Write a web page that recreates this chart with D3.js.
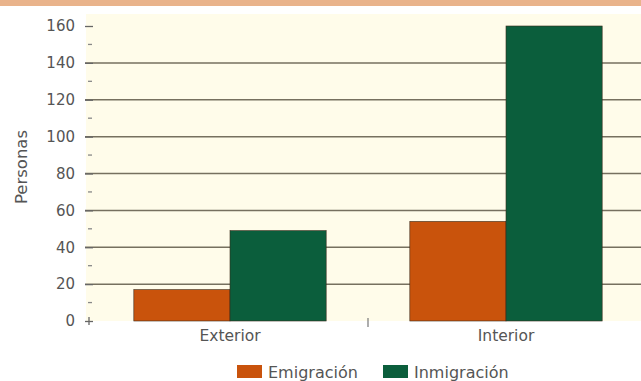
<!DOCTYPE html>
<html><head><meta charset="utf-8">
<script src="https://cdn.jsdelivr.net/npm/d3@7/dist/d3.min.js"></script>
<style>body{margin:0;background:#fff;}svg{display:block;font-family:"DejaVu Sans",Verdana,sans-serif;}</style>
</head><body>
<svg id="c" width="641" height="381"></svg>
<script>
const categories = ["Exterior", "Interior"];
const seriesNames = ["Emigración", "Inmigración"];
const emigracion = [17, 54];
const inmigracion = [49, 160];
const yTicks = [0, 20, 40, 60, 80, 100, 120, 140, 160];
const colors = ["#c9530c", "#0b5e3c"];

const svg = d3.select("#c");
const W = 641, H = 381;
const FONT = "DejaVu Sans, Verdana, sans-serif";
svg.append("rect").attr("x",0).attr("y",0).attr("width",W).attr("height",6).attr("fill","#e9b38b");

const x = d3.scaleBand().domain(categories).range([92, 644]).paddingInner(0).paddingOuter(0);
const y = d3.scaleLinear().domain([0, 160]).range([321, 26]);

svg.append("rect").attr("x",86).attr("y",14).attr("width",W-86).attr("height",y(0)-14).attr("fill","#fffcea");

// gridlines
svg.append("g").selectAll("line").data(yTicks.filter(d=>d>0 && d<160)).join("line")
  .attr("x1",85).attr("x2",W).attr("y1",d=>y(d)).attr("y2",d=>y(d))
  .attr("stroke","#76705f").attr("stroke-width",1.5);

// y axis
const yAxis = d3.axisLeft(y).tickValues(yTicks).tickSize(8).tickPadding(10);
const gy = svg.append("g").attr("transform","translate(93,0)").call(yAxis);
gy.select(".domain").remove();
gy.selectAll(".tick line").attr("stroke","#666").attr("stroke-width",1.3);
gy.selectAll(".tick text").attr("fill","#555").attr("font-size",15).attr("font-family",FONT);
// minor ticks
svg.append("g").selectAll("line").data(d3.range(10,160,20)).join("line")
  .attr("x1",88).attr("x2",92).attr("y1",d=>y(d)).attr("y2",d=>y(d))
  .attr("stroke","#888").attr("stroke-width",1.3);
// plus at zero
svg.append("line").attr("x1",89).attr("x2",89).attr("y1",y(0)-4).attr("y2",y(0)+4).attr("stroke","#666").attr("stroke-width",1.3);

// bars
const xs = d3.scaleBand().domain(seriesNames).range([0, x.bandwidth()]).paddingOuter(0.435).paddingInner(0);
const data = categories.map((c,i)=>({c, vals:[emigracion[i], inmigracion[i]]}));
const g = svg.append("g");
data.forEach(d=>{
  d.vals.forEach((v,j)=>{
    g.append("rect")
      .attr("x", x(d.c)+xs(seriesNames[j]))
      .attr("y", y(v))
      .attr("width", xs.bandwidth())
      .attr("height", y(0)-y(v))
      .attr("fill", colors[j])
      .attr("stroke","#3a2a1a").attr("stroke-width",0.6);
  });
});

// x axis
const xAxis = d3.axisBottom(x).tickSize(0).tickPadding(9);
const gx = svg.append("g").attr("transform",`translate(0,${y(0)})`).call(xAxis);
gx.select(".domain").remove();
gx.selectAll(".tick text").attr("fill","#555").attr("font-size",15.5).attr("font-family",FONT);
svg.append("g").selectAll("line").data(categories).join("line")
  .attr("x1",d=>x(d)+x.bandwidth()).attr("x2",d=>x(d)+x.bandwidth())
  .attr("y1",y(0)-3).attr("y2",y(0)+6).attr("stroke","#777").attr("stroke-width",1.2);

// y title
svg.append("text").attr("transform","translate(27,167) rotate(-90)").attr("text-anchor","middle")
  .attr("fill","#555").attr("font-size",16.5).attr("font-family",FONT).text("Personas");

// legend
const lx = [237, 383];
seriesNames.forEach((s,i)=>{
  svg.append("rect").attr("x",lx[i]).attr("y",365).attr("width",25).attr("height",13).attr("fill",colors[i]);
  svg.append("text").attr("x",lx[i]+31).attr("y",378).attr("fill","#555").attr("font-size",16).attr("font-family",FONT).text(s);
});
</script>
</body></html>
